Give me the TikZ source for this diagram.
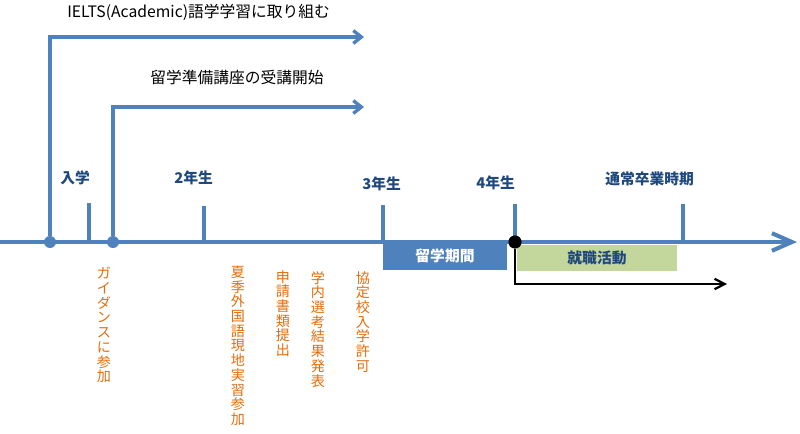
\documentclass[tikz,border=0pt]{standalone}
\usepackage{fontspec}
\setmainfont{Noto Sans CJK JP}
\usetikzlibrary{arrows.meta}
\definecolor{axisblue}{HTML}{4F81BD}
\definecolor{labelblue}{HTML}{1F497D}
\definecolor{eventorange}{HTML}{E46C0A}
\definecolor{jobgreen}{HTML}{C3D69B}

\begin{document}
\begin{tikzpicture}[x=0.025cm,y=-0.025cm,
    axis/.style={axisblue,line width=2.9pt},
    span/.style={axisblue,line width=2.4pt,-{Straight Barb[length=2mm,width=3.2mm]}},
    year/.style={labelblue,font=\fontsize{10.5}{12}\selectfont\bfseries,anchor=base west,inner sep=0pt},
    plan/.style={font=\fontsize{11.2}{13}\selectfont,anchor=base west,inner sep=0pt},
    event/.style={eventorange,font=\fontsize{10}{10.45}\selectfont,align=center,anchor=north,inner sep=0pt},
    period/.style={font=\fontsize{10.5}{12}\selectfont\bfseries,inner sep=0pt},
    dot/.style={circle,fill=axisblue,inner sep=0pt,minimum size=3mm}]
  \useasboundingbox (0,0) rectangle (800,433);

  % periods under the axis
  \node[period,fill=axisblue,text=white,minimum width=3.1cm,minimum height=0.7cm] (abroad) at (445,256) {留学期間};
  \node[period,fill=jobgreen,text=labelblue,minimum width=4cm,minimum height=0.65cm] (jobhunt) at (597,258) {就職活動};

  % time axis and ticks
  \coordinate (start) at (0,242);
  \coordinate (end) at (797,242);
  \draw[axis,-{Straight Barb[length=5mm,width=4.4mm]}] (start) -- (end);
  \draw[axis] (89,203) -- (89,242);
  \draw[axis] (204,206) -- (204,242);
  \draw[axis] (383,205) -- (383,242);
  \draw[axis] (515,204) -- (515,242);
  \draw[axis] (683,204) -- (683,242);

  % years
  \node[year] (enroll) at (60,183) {入学};
  \node[year] (second) at (174,183) {2年生};
  \node[year] (third) at (362,189) {3年生};
  \node[year] (fourth) at (476,188) {4年生};
  \node[year] (graduate) at (605,184) {通常卒業時期};

  % long running activities
  \node[dot] (entry) at (50,242) {};
  \node[dot] (guide) at (113,242) {};
  \coordinate (ieltsend) at (364,37);
  \coordinate (prepend) at (364,107);
  \draw[span] (entry) |- (ieltsend);
  \draw[span] (guide) |- (prepend);
  \node[plan] (ielts) at (67,18) {IELTS(Academic)語学学習に取り組む};
  \node[plan] (prep) at (150,83) {留学準備講座の受講開始};

  % job hunting from the 4th year
  \node[circle,fill=black,inner sep=0pt,minimum size=3.3mm] (shift) at (515,242) {};
  \coordinate (jobend) at (727,284);
  \draw[black,line width=1.6pt,-{Straight Barb[length=2.5mm,width=2.6mm]}] (shift) |- (jobend);

  % events
  \node[event] (guidance) at (104,267) {ガ\\イ\\ダ\\ン\\ス\\に\\参\\加};
  \node[event] (summer) at (238,266) {夏\\季\\外\\国\\語\\現\\地\\実\\習\\参\\加};
  \node[event] (apply) at (283,270) {申\\請\\書\\類\\提\\出};
  \node[event] (select) at (318,271) {学\\内\\選\\考\\結\\果\\発\\表};
  \node[event] (admit) at (363,271) {協\\定\\校\\入\\学\\許\\可};
\end{tikzpicture}
\end{document}
